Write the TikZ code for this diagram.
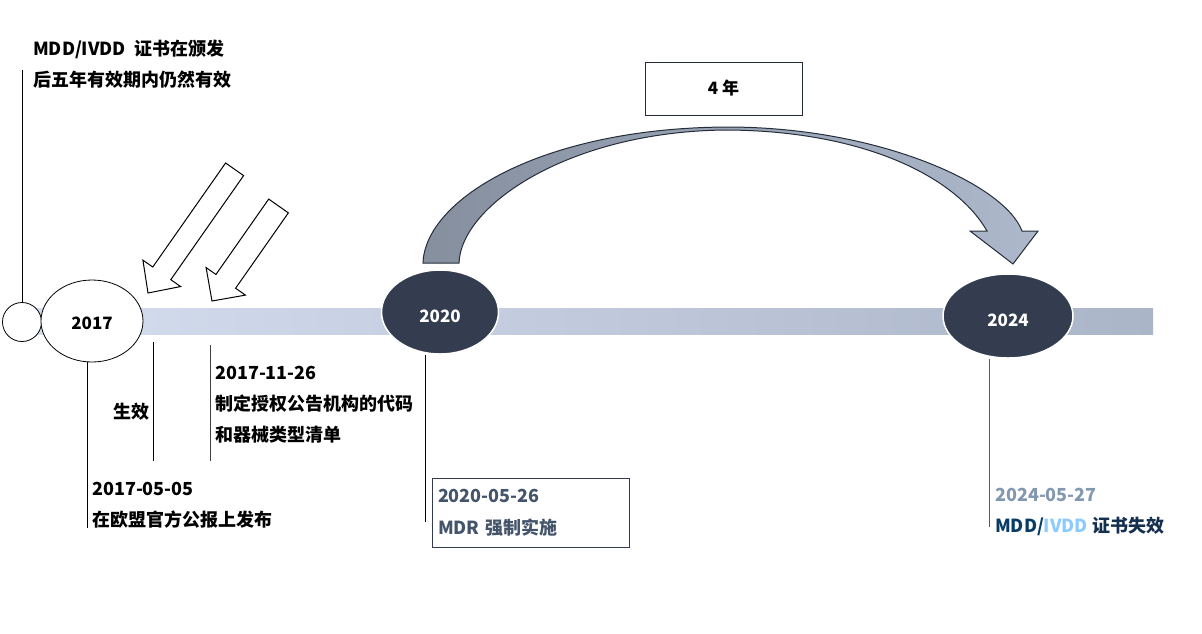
\documentclass[tikz,border=0pt]{standalone}
\usepackage{fontspec}
\setmainfont{Noto Sans CJK SC}
\usetikzlibrary{shapes.geometric}
\definecolor{barL}{HTML}{D5DEEF}
\definecolor{barR}{HTML}{ABB5C8}
\definecolor{inkdark}{HTML}{333D4F}
\definecolor{inkline}{HTML}{252D3A}
\definecolor{arcL}{HTML}{858F9E}
\definecolor{arcR}{HTML}{ADB8CC}
\definecolor{slateA}{HTML}{44546A}
\definecolor{greyblue}{HTML}{8497B0}
\definecolor{navyA}{HTML}{083C66}
\definecolor{navyB}{HTML}{15304F}
\definecolor{skyA}{HTML}{8CCBFF}
% tip, angle, length, shaft width, head width
\newcommand{\hollowarrow}[5]{%
  \begin{scope}[shift={#1},rotate=#2]
    \draw[line width=1pt,fill=white] (0,0) -- (24,#5/2) -- (24,#4/2) -- (#3,#4/2)
      -- (#3,-#4/2) -- (24,-#4/2) -- (24,-#5/2) -- cycle;
  \end{scope}}
\begin{document}
\begin{tikzpicture}[x=1pt,y=-1pt,
    txt/.style={font=\bfseries\fontsize{18}{31}\selectfont,inner sep=0,anchor=west,align=left},
    yr/.style={ellipse,inner sep=0},
    yrtext/.style={font=\bfseries\fontsize{17}{17}\selectfont,inner sep=0},
    yrdark/.style={yr,fill=inkdark,draw=white,line width=1.5pt},
    tick/.style={draw=black,line width=0.8pt}]
    \useasboundingbox (0,0) rectangle (1202,633);
    \shade[left color=barL,right color=barR] (30,308) rectangle (1153,334);
    \node[draw,circle,minimum size=39,inner sep=0,fill=white,line width=0.8pt] (o) at (22,322) {};
    \node[yr,draw,fill=white,minimum width=102,minimum height=82,line width=0.8pt,
          label={[yrtext,yshift=-2pt]center:2017}] (y17) at (92,321) {};
    \node[yrdark,minimum width=117,minimum height=84,
          label={[yrtext,text=white,yshift=-4pt]center:2020}] (y20) at (440,312) {};
    \node[yrdark,minimum width=130,minimum height=84,
          label={[yrtext,text=white,yshift=-4pt]center:2024}] (y24) at (1008,316) {};
    % arc over the four years
    \draw[draw=inkline,line width=1pt,left color=arcL,right color=arcR]
        (423,263) .. controls (425,200) and (540,128) .. (727,127)
        .. controls (880,127) and (1005,185) .. (1022,231) -- (1038,231) -- (1013,264) -- (970,231) -- (987,231)
        .. controls (958,180) and (870,131) .. (727,130)
        .. controls (570,131) and (461,205) .. (459,263) -- cycle;
    \node[draw=inkline,line width=1pt,minimum width=157,minimum height=53,font=\bfseries\fontsize{17}{17}\selectfont] (span) at (723.5,88.5) {4 年};
    \hollowarrow{(148,293)}{55}{151}{22}{46}
    \hollowarrow{(212,301)}{55}{116}{24}{48}
    % ticks and notes
    \coordinate (c0) at (22,70);
    \draw[tick] (o.north) -- (c0);
    \node[txt] (note0) at (33,64) {MDD/IVDD\hspace{8pt}证书在颁发\\后五年有效期内仍然有效};
    \draw[tick] ([xshift=-5pt]y17.south) -- ++(0,166);
    \node[txt] (note17) at (92,505.5) {2017-05-05\\在欧盟官方公报上发布};
    \coordinate (t1) at (153,342);
    \draw[tick] (t1) -- ++(0,119);
    \node[txt,anchor=east] (eff) at (150,412) {生效};
    \coordinate (t2) at (210,345);
    \draw[tick,draw=black!75] (t2) -- ++(0,116);
    \node[txt] (note1126) at (215,405) {2017-11-26\\制定授权公告机构的代码\\和器械类型清单};
    \draw[tick] ([xshift=-15pt]y20.south) -- ++(0,167);
    \node[draw=inkdark,line width=0.8pt,minimum width=197,minimum height=69,inner xsep=6,text width=185,align=left,text=slateA,font=\bfseries\fontsize{18}{32}\selectfont] (mdr) at (530.5,512.5) {2020-05-26\\MDR 强制实施};
    \draw[tick,draw=black!65] ([xshift=-19pt]y24.south) -- ++(0,168);
    \node[txt] (note24) at (995,512) {{\color{greyblue}2024-05-27}\\{\color{navyA}MDD/}{\color{skyA}IVDD} {\color{navyB}证书失效}};
\end{tikzpicture}
\end{document}
